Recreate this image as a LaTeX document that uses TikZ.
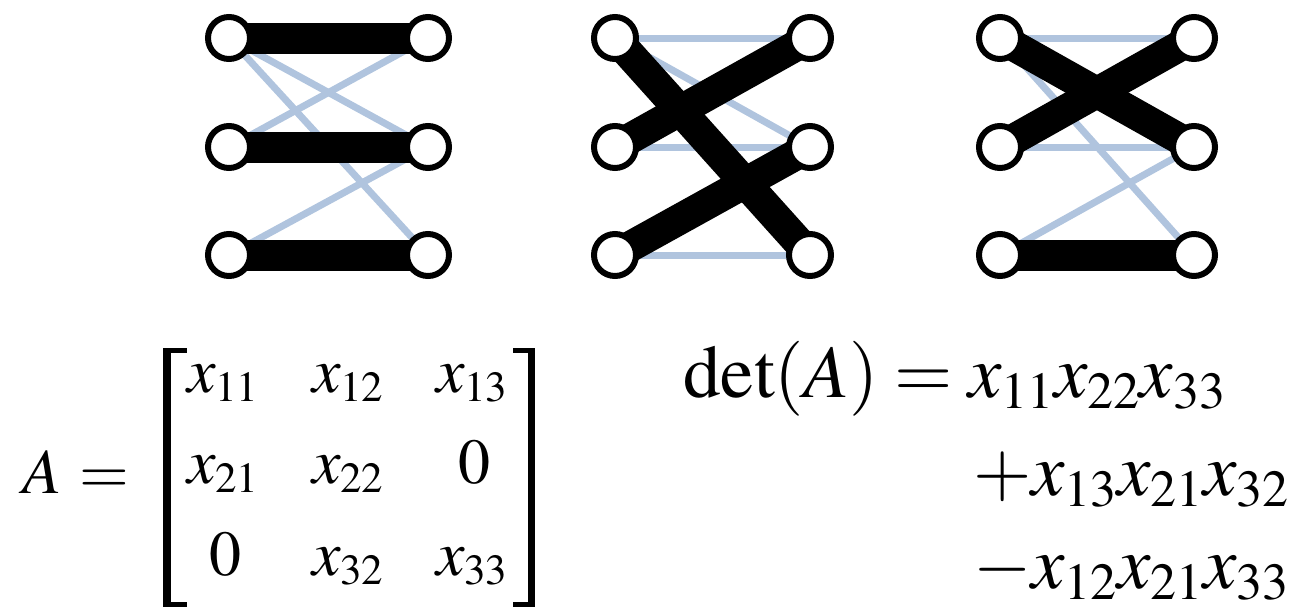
\documentclass[tikz,border=0pt]{standalone}
\usepackage{mathptmx}
\DeclareMathSizes{64}{64}{43}{30}
\DeclareMathSizes{75}{75}{52}{40}
\definecolor{edgeblue}{RGB}{176,196,222}
\pgfdeclarelayer{bg}
\pgfsetlayers{bg,main}
\begin{document}
\begin{tikzpicture}[x=1pt,y=-1pt,
  vert/.style={circle,draw=black,fill=white,line width=6pt,minimum size=42pt,inner sep=0pt},
  heavy/.style={line width=31pt,black},
  light/.style={line width=7pt,edgeblue},
  mtx/.style={inner sep=0pt,anchor=base,font=\fontsize{64}{77}\selectfont},
  eqn/.style={inner sep=0pt,anchor=base west,font=\fontsize{75}{90}\selectfont}]
\useasboundingbox (0,0) rectangle (1310,611);
% vertices
\foreach \g/\xl/\xr in {1/229/428, 2/615/810, 3/1000/1194} {
  \foreach \r/\y in {1/38,2/147,3/255} {
    \node[vert] (g\g l\r) at (\xl,\y) {};
    \node[vert] (g\g r\r) at (\xr,\y) {};
  }
}
\begin{pgfonlayer}{bg}
  \foreach \a/\b in {g1l1/g1r2, g1l1/g1r3, g1l2/g1r1, g1l3/g1r2,
                     g2l1/g2r1, g2l1/g2r2, g2l2/g2r2, g2l3/g2r3,
                     g3l1/g3r1, g3l1/g3r3, g3l2/g3r2, g3l3/g3r2}
    \draw[light] (\a.center) -- (\b.center);
  \foreach \a/\b in {g1l1/g1r1, g1l2/g1r2, g1l3/g1r3,
                     g2l1/g2r3, g2l2/g2r1, g2l3/g2r2,
                     g3l1/g3r2, g3l2/g3r1, g3l3/g3r3}
    \draw[heavy] (\a.center) -- (\b.center);
\end{pgfonlayer}
% matrix
\node[mtx] (Asym) at (42.5,493) {$A$};
\node[mtx] (Aeq) at (104,493) {$=$};
\fill (163,348) rectangle (187,353);
\fill (163,348) rectangle (170.5,607);
\fill (163,602) rectangle (187,607);
\fill (513,348) rectangle (535,353);
\fill (527.5,348) rectangle (535,607);
\fill (513,602) rectangle (535,607);
\node[mtx] (m11) at (223,392) {$x_{11}$};
\node[mtx] (m12) at (348,392) {$x_{12}$};
\node[mtx] (m13) at (472,392) {$x_{13}$};
\node[mtx] (m21) at (223,483) {$x_{21}$};
\node[mtx] (m22) at (348,483) {$x_{22}$};
\node[mtx] (m23) at (474,483) {$0$};
\node[mtx] (m31) at (225,575) {$0$};
\node[mtx] (m32) at (348,575) {$x_{32}$};
\node[mtx] (m33) at (472,575) {$x_{33}$};
% determinant
\node[eqn] (det) at (683,397) {$\det(A)$};
\node[eqn,anchor=base] (deq) at (923.5,397) {$=$};
\node[eqn] (t1) at (968,397) {$x_{11}x_{22}x_{33}$};
\node[eqn] (t2) at (973,495) {${+}x_{13}x_{21}x_{32}$};
\node[eqn] (t3) at (973,588) {${-}x_{12}x_{21}x_{33}$};
\end{tikzpicture}
\end{document}
